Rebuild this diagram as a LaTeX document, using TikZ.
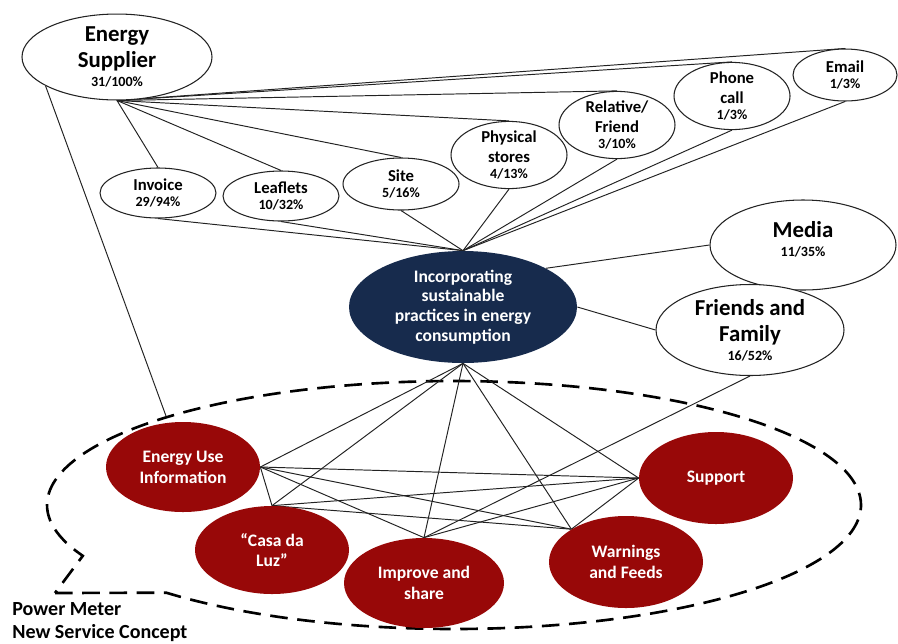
\documentclass[tikz,border=0pt]{standalone}
\usepackage{fontspec}
\setmainfont{Carlito}
\usetikzlibrary{shapes.geometric,backgrounds}
\definecolor{navy}{RGB}{23,43,77}
\definecolor{wine}{RGB}{152,8,8}
\definecolor{edge}{RGB}{34,34,34}
\newcommand{\numline}[1]{{\fontsize{8}{9.6}\selectfont #1}}
\begin{document}
\begin{tikzpicture}[x=0.02cm,y=-0.02cm,
  oval/.style 2 args={ellipse, inner sep=0pt, minimum width=#1*0.02cm, minimum height=#2*0.02cm, align=center},
  chan/.style={draw=edge, line width=0.6pt, fill=white, font=\bfseries\fontsize{9.5}{11}\selectfont},
  big/.style={draw=edge, line width=0.6pt, fill=white, font=\bfseries\fontsize{13}{15}\selectfont},
  core/.style={fill=navy, text=white, font=\bfseries\fontsize{10}{11.3}\selectfont},
  feature/.style={fill=wine, text=white, font=\bfseries\fontsize{10}{11.8}\selectfont},
  link/.style={draw=edge, line width=0.55pt},
  bubble/.style={draw=black, line width=1.5pt, dash pattern=on 10pt off 5.5pt},
]
\useasboundingbox (0,0) rectangle (898,643);

% channel and source nodes
\node[big, oval={190}{82}] (es) at (117,57) {Energy\\Supplier\\[-4.2pt]\numline{31/100\%}};
\node[chan, oval={116}{50}] (inv) at (158,193) {Invoice\\[-2.1pt]\numline{29/94\%}};
\node[chan, oval={116}{50}] (lfl) at (281,196) {Leaflets\\[-2.1pt]\numline{10/32\%}};
\node[chan, oval={116}{52}] (site) at (401,184) {Site\\[-2.1pt]\numline{5/16\%}};
\node[chan, oval={116}{58}] (phys) at (509,155) {Physical\\stores\\[-2pt]\numline{4/13\%}};
\node[chan, oval={116}{56}] (rel) at (617,125) {Relative/\\Friend\\[-2pt]\numline{3/10\%}};
\node[chan, oval={116}{57}] (phone) at (732,96) {Phone\\call\\[-2pt]\numline{1/3\%}};
\node[chan, oval={104}{52}] (email) at (845,75) {Email\\[-2pt]\numline{1/3\%}};
\node[big, oval={186}{90}, text depth=7pt] (media) at (803,245) {Media\\[-4.2pt]\numline{11/35\%}};
\node[big, oval={188}{91}] (ff) at (750,330) {Friends and\\Family\\[-4.2pt]\numline{16/52\%}};

% central practice node
\node[core, oval={228}{112}] (ctr) at (463,307) {Incorporating\\sustainable\\practices in energy\\consumption};

% service features
\node[feature, oval={154}{90}] (eui) at (183,467) {Energy Use\\Information};
\node[feature, oval={154}{88}] (casa) at (272,550) {“Casa da\\Luz”};
\node[feature, oval={160}{90}] (imp) at (424,583) {Improve and\\share};
\node[feature, oval={154}{92}] (wf) at (626,562) {Warnings\\and Feeds};
\node[feature, oval={154}{92}] (sup) at (716,478) {Support};

\node[anchor=north west, inner sep=0pt, align=left, font=\bfseries\fontsize{11.4}{13}\selectfont] (pmlabel) at (12,602) {Power Meter\\New Service Concept};

\coordinate (pm) at (166,416);

\begin{scope}[on background layer]
  % speech-bubble outline of the service concept
  \draw[bubble] (55,593) -- plot[domain=135:-204.2, samples=120, smooth] ({454+407*cos(\x)},{505+124*sin(\x)}) -- cycle;

  % energy supplier channels
  \foreach \n in {inv,lfl,site,phys,rel,phone,email}{
    \draw[link] (es.south) -- (\n.north);
    \draw[link] (ctr.north) -- (\n.south);
  }
  \draw[link] (es.202) -- (pm);

  \draw[link] (ctr.25) -- (media.west);
  \draw[link] (ctr.east) -- (ff.west);
  \draw[link] (ff.south) -- (imp.north);

  % links among the features
  \foreach \n in {eui.east,casa.north,imp.north,wf.149,sup.west}
    \draw[link] (ctr.south) -- (\n);
  \foreach \n in {casa.north,imp.north,wf.149,sup.west}
    \draw[link] (eui.east) -- (\n);
  \foreach \n in {wf.149,sup.west}
    \draw[link] (casa.north) -- (\n);
  \draw[link] (imp.north) -- (sup.west);
  \draw[link] (wf.149) -- (sup.west);
\end{scope}
\end{tikzpicture}
\end{document}
